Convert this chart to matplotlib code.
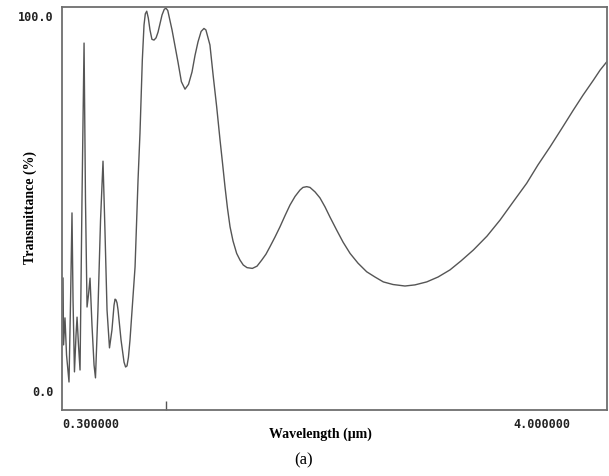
import matplotlib
matplotlib.use("Agg")
import matplotlib.pyplot as plt
import numpy as np

# transmission spectrum, wavelength in um, transmittance in %
wavelength = np.array([
    0.308, 0.312, 0.323, 0.335, 0.354, 0.366, 0.377, 0.385, 0.396, 0.408,
    0.416, 0.427, 0.439, 0.454, 0.470, 0.481, 0.493, 0.504, 0.516, 0.531,
    0.547, 0.558, 0.577, 0.597, 0.616, 0.631, 0.647, 0.666, 0.685, 0.701,
    0.709, 0.716, 0.724, 0.732, 0.755, 0.778, 0.790, 0.801, 0.812, 0.824,
    0.863, 0.886, 0.901, 0.919, 0.932, 0.942, 0.953, 0.965, 0.978, 0.993,
    1.009, 1.025, 1.040, 1.071, 1.088, 1.101, 1.115, 1.148, 1.194, 1.220,
    1.248, 1.275, 1.302, 1.325, 1.348, 1.372, 1.394, 1.409, 1.440, 1.466,
    1.492, 1.518, 1.537, 1.556, 1.575, 1.595, 1.618, 1.646, 1.672, 1.697,
    1.726, 1.767, 1.803, 1.839, 1.872, 1.903, 1.942, 1.980, 2.019, 2.057,
    2.096, 2.134, 2.157, 2.186, 2.211, 2.250, 2.288, 2.327, 2.365, 2.417,
    2.466, 2.520, 2.581, 2.648, 2.712, 2.776, 2.851, 2.943, 3.020, 3.111,
    3.198, 3.290, 3.375, 3.470, 3.575, 3.676, 3.776, 3.881, 3.968, 4.061,
    4.153, 4.240, 4.315, 4.395, 4.447, 4.498,
])
transmittance = np.array([
    30.1, 12.3, 19.5, 9.6, 2.4, 24.3, 47.5, 24.3, 5.1, 14.9,
    19.7, 12.3, 5.6, 50.9, 92.8, 50.9, 22.4, 25.6, 30.1, 17.6,
    6.9, 3.5, 21.6, 45.6, 61.3, 42.9, 21.6, 11.5, 16.3, 22.9,
    24.5, 24.3, 23.5, 21.6, 13.6, 7.7, 6.4, 6.7, 9.0, 13.6,
    33.1, 56.3, 68.8, 88.3, 97.6, 100.6, 101.3, 99.5, 96.3, 93.8,
    93.6, 94.2, 95.7, 100.3, 101.8, 102.1, 101.5, 96.3, 87.7, 82.5,
    80.5, 81.8, 85.1, 89.5, 93.1, 95.9, 96.7, 96.3, 92.3, 83.8,
    75.8, 66.9, 60.8, 54.5, 48.8, 43.8, 40.0, 36.7, 34.9, 33.6,
    32.9, 32.7, 33.3, 34.9, 36.5, 38.5, 41.1, 43.8, 46.8, 49.6,
    51.9, 53.6, 54.3, 54.5, 54.3, 53.1, 51.5, 49.1, 46.4, 42.9,
    39.7, 36.7, 34.1, 31.8, 30.4, 29.1, 28.4, 28.0, 28.3, 29.1,
    30.4, 32.3, 34.7, 37.6, 41.3, 45.6, 50.4, 55.4, 60.3, 65.1,
    70.1, 74.9, 78.9, 82.9, 85.6, 87.8,
])

x_ticks = [0.3, 4.0]
x_tick_labels = ["0.300000", "4.000000"]
y_ticks = [0.0, 100.0]
y_tick_labels = ["0.0", "100.0"]
marker_wl = 1.1

fig = plt.figure(figsize=(6.09, 4.76), dpi=100)
ax = fig.add_axes([62 / 609, 66 / 476, 545 / 609, 403.3 / 476])

ax.plot(wavelength, transmittance, color="#555555", lw=1.0)

ax.set_xlim(0.3, 4.5)
ax.set_ylim(-5.07, 102.5)

for s in ax.spines.values():
    s.set_color("#6e6e6e")
    s.set_linewidth(1.3)

tick_font = dict(family="DejaVu Sans Mono", weight="bold", size=8.5)
ax.set_xticks(x_ticks)
ax.set_xticklabels(x_tick_labels, **tick_font)
ax.get_xticklabels()[0].set_horizontalalignment("left")
ax.set_yticks(y_ticks)
ax.set_yticklabels(y_tick_labels, **tick_font)
ax.tick_params(axis="both", length=0, pad=6, colors="#222222")

# cursor mark on the wavelength axis
ax.set_xticks([marker_wl], minor=True)
ax.tick_params(axis="x", which="minor", direction="in", length=6.5,
               width=1.0, color="#555555")

fig.text(320 / 609, 1 - 434 / 476, "Wavelength (\u03bcm)", ha="center",
         va="center", family="Liberation Serif", weight="bold", size=10)
fig.text(30 / 609, 1 - 208 / 476, "Transmittance (%)", ha="center",
         va="center", rotation=90, family="Liberation Serif",
         weight="bold", size=10)
fig.text(304 / 609, 1 - 460 / 476, "(a)", ha="center", va="center",
         family="Liberation Serif", size=12)

fig.savefig("out.png", dpi=100)
